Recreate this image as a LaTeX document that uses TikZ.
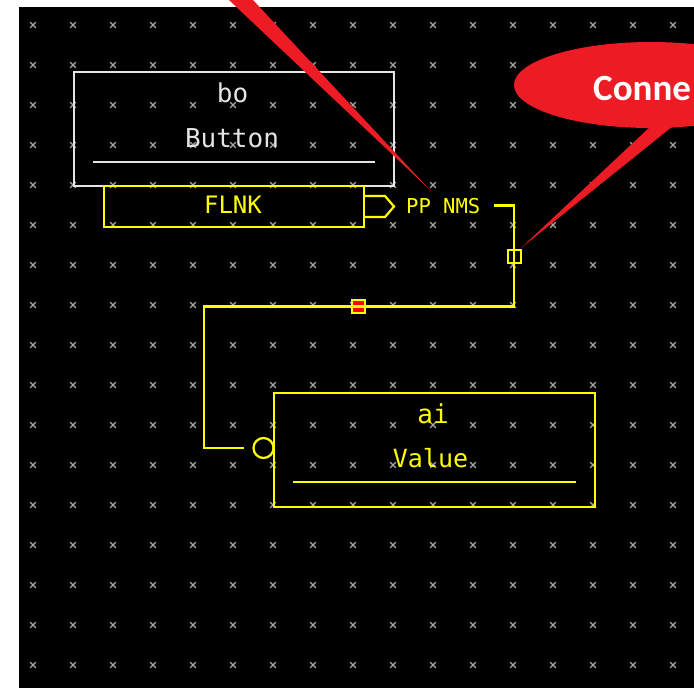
\documentclass[tikz,border=0pt]{standalone}
\usepackage{fontspec}
\newfontfamily\pixfont{DejaVu Sans Mono}
\newfontfamily\callfont{Carlito}
\usepackage{tikz}
\usetikzlibrary{positioning, calc}
\definecolor{pinYellow}{HTML}{FFFF00}
\definecolor{boxWhite}{HTML}{E4E4E4}
\definecolor{gridGray}{HTML}{A8A8A8}
\definecolor{calloutRed}{HTML}{ED1C24}
\definecolor{tagRed}{HTML}{FF0000}
\newcommand{\DrawMark}[2]{
    \draw[gridGray, line width=1.3] (#1-2.8,#2-2.8) -- (#1+2.8,#2+2.8) (#1-2.8,#2+2.8) -- (#1+2.8,#2-2.8);
}
\newcommand{\pixsize}[1]{\pixfont\fontsize{#1}{#1}\selectfont}

\begin{document}
\begin{tikzpicture}[x=1pt, y=-1pt,
    recbox/.style={draw, rectangle, line width=2.2, inner sep=0pt},
    pintext/.style={text=pinYellow, inner sep=0pt},
    wire/.style={draw=pinYellow, line width=2.4},
    marker/.style={draw=pinYellow, line width=2, minimum size=13, inner sep=0pt}]
        \useasboundingbox (0,0) rectangle (694,688);
        \clip (0,0) rectangle (694,688);
        % --- SCREEN ---
        \fill[white] (0,0) rectangle (694,688);
        \fill[black] (19,7) rectangle (694,688);
        \foreach \gx in {0,...,16} \foreach \gy in {0,...,16} \DrawMark{33+40*\gx}{25+40*\gy};

        % --- BUTTON RECORD ---
        \node[recbox, draw=boxWhite, minimum width=320, minimum height=114] (btn) at (234,129) {};
        \node[inner sep=0pt, text=boxWhite, font=\pixsize{26}, anchor=base] (btnname) at (232.5,102) {bo};
        \node[inner sep=0pt, text=boxWhite, font=\pixsize{26}, anchor=base] (btntype) at (232,147) {Button};
        \draw[boxWhite, line width=2.2] (93,162) -- (375,162);

        % FLNK field with output pin
        \node[recbox, draw=pinYellow, minimum width=260, minimum height=41] (flnk) at (234,206.5) {};
        \node[pintext, font=\pixsize{24}, anchor=base] (flnktext) at (233,213) {FLNK};
        \draw[wire, line width=2.2] (flnk.east |- 0,196) -- (385,196) -- (394,206.5) -- (385,217) -- (flnk.east |- 0,217);
        \node[pintext, font=\pixsize{20.5}, anchor=base west] (ppnms) at (406,213) {PP NMS};

        % --- VALUE RECORD ---
        \node[recbox, draw=pinYellow, minimum width=321, minimum height=114] (valbox) at (434.5,450) {};
        \node[pintext, font=\pixsize{26}, anchor=base] (valname) at (433,423) {ai};
        \node[pintext, font=\pixsize{25}, anchor=base] (valtype) at (430.5,467) {Value};
        \draw[pinYellow, line width=2.2] (293,482) -- (576,482);
        \node[circle, draw=pinYellow, line width=2.2, minimum size=20, inner sep=0pt] (inpin) at (263.5,448) {};

        % --- LINK WIRE ---
        \node[marker, fill=black] (jointsq) at (514,256.7) {};
        \node[marker, fill=tagRed] (tagsq) at (358.5,306.5) {};
        \coordinate (wbend) at (204,306.5);
        \draw[wire] ([xshift=14]ppnms.east) -| (jointsq.center) |- (tagsq.center) -- (wbend) |- ([xshift=-8.5]inpin.west);

        % --- CALLOUTS ---
        \fill[calloutRed] (218.4,-10) -- (243.7,-10) -- (430,190) -- cycle;
        \fill[calloutRed] (651,85) ellipse [x radius=137, y radius=43];
        \fill[calloutRed] (668,110) -- (693,110) -- (521,248) -- cycle;
        \node[inner sep=0pt, text=white, font=\callfont\bfseries\fontsize{37}{37}\selectfont, anchor=base west] (calltext) at (593,100) {Conne};
\end{tikzpicture}
\end{document}
